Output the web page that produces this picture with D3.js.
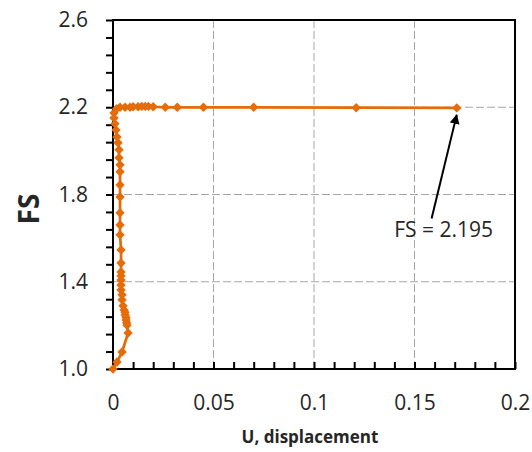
<!DOCTYPE html>
<html>
<head>
<meta charset="utf-8">
<script src="https://cdn.jsdelivr.net/npm/d3@7"></script>
<style>
  body { margin: 0; background: #fff; }
  svg text { font-family: "Open Sans", sans-serif; fill: #262626; }
</style>
</head>
<body>
<div id="chart"></div>
<script>
// U, displacement values
var uValues = [0, 0.002, 0.0045, 0.0075, 0.007, 0.0068, 0.0065, 0.0065, 0.006, 0.006, 0.0055, 0.005,
  0.0045, 0.0045, 0.004, 0.004, 0.004, 0.004, 0.004, 0.004, 0.004, 0.0035,
  0.0035, 0.0035, 0.0035, 0.0035, 0.0035, 0.0035, 0.003, 0.003, 0.0025, 0.002,
  0.0015, 0.001, 0.0005, 0.0005,
  0.0018, 0.0035, 0.006, 0.0085, 0.010, 0.0125, 0.0143, 0.016, 0.0176, 0.020,
  0.026, 0.032, 0.045, 0.070, 0.121, 0.171];
// FS values
var fsValues = [1.0, 1.032, 1.078, 1.165, 1.20, 1.212, 1.225, 1.236, 1.248, 1.26, 1.27, 1.29, 1.317,
  1.34, 1.362, 1.385, 1.408, 1.427, 1.445, 1.486, 1.546, 1.615, 1.66,
  1.716, 1.789, 1.844, 1.904, 1.936, 1.968, 2.005, 2.037, 2.064, 2.096,
  2.124, 2.151, 2.174, 2.193,
  2.2, 2.2, 2.2, 2.202, 2.202, 2.204, 2.204, 2.204, 2.202, 2.2,
  2.2, 2.2, 2.2, 2.198, 2.197, 2.195];

var xTickLabels = ["0", "0.05", "0.1", "0.15", "0.2"];
var yTickLabels = ["1.0", "1.4", "1.8", "2.2", "2.6"];
var annotationText = "FS = 2.195";

var data = uValues.map(function(u, i) { return { u: u, fs: fsValues[i] }; });

var svgWidth = 532, svgHeight = 452;
var margin = { top: 20, right: 17, bottom: 83, left: 113 };
var width = svgWidth - margin.left - margin.right;
var height = svgHeight - margin.top - margin.bottom;

var orange = "#e46c0a";

var svg = d3.select("#chart").append("svg")
    .attr("width", svgWidth)
    .attr("height", svgHeight);

var chartGroup = svg.append("g")
    .attr("transform", `translate(${margin.left}, ${margin.top})`);

var xScale = d3.scaleLinear().domain([0, 0.2]).range([0, width]);
var yScale = d3.scaleLinear().domain([1.0, 2.6]).range([height, 0]);

var xMajor = xTickLabels.map(Number);
var yMajor = yTickLabels.map(Number);

// gridlines (dashed grey)
chartGroup.append("g").selectAll("line")
    .data(xMajor.slice(1, -1))
    .enter().append("line")
    .attr("x1", d => xScale(d)).attr("x2", d => xScale(d))
    .attr("y1", 0).attr("y2", height)
    .attr("stroke", "#a6a6a6").attr("stroke-width", 1)
    .attr("stroke-dasharray", "8,3");

chartGroup.append("g").selectAll("line")
    .data(yMajor.slice(1, -1))
    .enter().append("line")
    .attr("y1", d => yScale(d)).attr("y2", d => yScale(d))
    .attr("x1", 0).attr("x2", width)
    .attr("stroke", "#a6a6a6").attr("stroke-width", 1)
    .attr("stroke-dasharray", "8,3");

// axes
var xMinor = d3.range(0, 21).map(i => i * 0.01);
var yMinor = d3.range(0, 21).map(i => 1 + i * 0.08);

var bottomAxis = d3.axisBottom(xScale)
    .tickValues(xMinor)
    .tickSizeInner(-7)
    .tickSizeOuter(0)
    .tickFormat(d => {
        var i = xMajor.findIndex(v => Math.abs(v - d) < 1e-6);
        return i >= 0 ? xTickLabels[i] : "";
    });

var leftAxis = d3.axisLeft(yScale)
    .tickValues(yMinor)
    .tickSizeInner(7)
    .tickSizeOuter(0)
    .tickPadding(18)
    .tickFormat(d => {
        var i = yMajor.findIndex(v => Math.abs(v - d) < 1e-6);
        return i >= 0 ? yTickLabels[i] : "";
    });

var xAxisG = chartGroup.append("g")
    .attr("transform", `translate(0, ${height})`)
    .call(bottomAxis);
xAxisG.selectAll("text")
    .attr("y", 34).attr("dy", "0.35em")
    .style("font-size", "21px");

var yAxisG = chartGroup.append("g").call(leftAxis);
yAxisG.selectAll("text").style("font-size", "21px");

[xAxisG, yAxisG].forEach(function(g) {
    g.selectAll(".tick line").attr("stroke", "#000").attr("stroke-width", 2);
    g.select(".domain").remove();
});

// plot frame
chartGroup.append("rect")
    .attr("x", 0).attr("y", 0)
    .attr("width", width).attr("height", height)
    .attr("fill", "none")
    .attr("stroke", "#000")
    .attr("stroke-width", 2);

// series line
var line = d3.line()
    .x(d => xScale(d.u))
    .y(d => yScale(d.fs));

chartGroup.append("path")
    .datum(data)
    .attr("d", line)
    .attr("fill", "none")
    .attr("stroke", orange)
    .attr("stroke-width", 2.75)
    .attr("stroke-linejoin", "round");

// diamond markers
var diamond = d3.symbol().type(d3.symbolSquare).size(44);
chartGroup.selectAll(".marker")
    .data(data)
    .enter().append("path")
    .attr("class", "marker")
    .attr("d", diamond)
    .attr("transform", d => `translate(${xScale(d.u)}, ${yScale(d.fs)}) rotate(45)`)
    .attr("fill", orange);

// annotation arrow + label
svg.append("defs").append("marker")
    .attr("id", "arrowhead")
    .attr("viewBox", "0 0 10 10")
    .attr("refX", 9).attr("refY", 5)
    .attr("markerWidth", 5).attr("markerHeight", 5)
    .attr("orient", "auto")
    .append("path")
    .attr("d", "M0,0 L10,5 L0,10 Z")
    .attr("fill", "#000");

chartGroup.append("line")
    .attr("x1", xScale(0.1585)).attr("y1", yScale(1.69))
    .attr("x2", xScale(0.171)).attr("y2", yScale(2.165))
    .attr("stroke", "#000")
    .attr("stroke-width", 2)
    .attr("marker-end", "url(#arrowhead)");

chartGroup.append("text")
    .attr("x", xScale(0.1645))
    .attr("y", yScale(1.638))
    .attr("dy", "0.35em")
    .attr("text-anchor", "middle")
    .style("font-size", "21px")
    .text(annotationText);

// axis titles
svg.append("text")
    .attr("x", margin.left + width / 2 - 4)
    .attr("y", 437)
    .attr("dy", "0.35em")
    .attr("text-anchor", "middle")
    .style("font-size", "17px")
    .style("font-weight", "bold")
    .text("U, displacement");

svg.append("text")
    .attr("transform", "translate(29, 209) rotate(-90)")
    .attr("dy", "0.35em")
    .attr("text-anchor", "middle")
    .style("font-size", "28px")
    .style("font-weight", "bold")
    .text("FS");
</script>
</body>
</html>
